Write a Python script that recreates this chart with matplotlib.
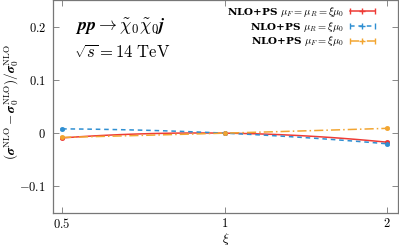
import numpy as np
import matplotlib
matplotlib.use("Agg")
import matplotlib.pyplot as plt
from matplotlib.lines import Line2D
from matplotlib.legend_handler import HandlerLine2D, HandlerTuple

xi = [0.5, 1.0, 2.0]
red_vals = [-0.009, 0.0, -0.017]
blue_vals = [0.008, 0.0, -0.020]
orange_vals = [-0.008, 0.0, 0.009]
err = [0.002, 0.001, 0.002]
labels = [r'NLO+PS $\mu_F=\mu_R=\xi\mu_0$',
          r'NLO+PS $\mu_R=\xi\mu_0$',
          r'NLO+PS $\mu_F=\xi\mu_0$']
xticks = [0.5, 1, 2]
xticklabels = [r'$0.5$', r'$1$', r'$2$']
yticks = [-0.1, 0.0, 0.1, 0.2]
yticklabels = [r'$-0.1$', r'$0$', r'$0.1$', r'$0.2$']

plt.rcParams['mathtext.fontset'] = 'cm'
plt.rcParams['font.family'] = 'DejaVu Serif'

fig = plt.figure(figsize=(3.99, 2.48), dpi=100)
ax = fig.add_axes([0.133, 0.141, 0.864, 0.859])
ax.set_xscale('log')

colors = ['#ee3b36', '#2f8fd2', '#f2a531']
styles = ['-', (0, (3, 2.5)), (0, (6, 2, 1, 2))]
series = [red_vals, blue_vals, orange_vals]

handles = []
hmap = {}
for vals, c, ls, lab in zip(series, colors, styles, labels):
    t = np.log2(xi)
    coef = np.polyfit(t, vals, 2)
    tt = np.linspace(t[0], t[-1], 100)
    ax.plot(2 ** tt, np.polyval(coef, tt), color=c, ls=ls, lw=1.1)
    ax.errorbar(xi, vals, yerr=err, fmt='o', ms=2.5, color=c, capsize=1.5, elinewidth=0.8)
    caps = Line2D([], [], color=c, ls=ls, lw=1.1, marker='|', ms=5, mew=1)
    plus = Line2D([], [], color=c, ls='none', marker='+', ms=4, mew=1)
    hmap[caps] = HandlerLine2D(numpoints=2)
    hmap[plus] = HandlerLine2D(numpoints=1)
    handles.append((caps, plus))
hmap[tuple] = HandlerTuple(ndivide=1)

leg = ax.legend(handles, labels, handler_map=hmap, loc='upper right',
                bbox_to_anchor=(0.97, 1.02), frameon=False, markerfirst=False,
                fontsize=7.5, handlelength=3.0, handletextpad=0.3, labelspacing=0.05)
for txt in leg.get_texts():
    txt.set_fontweight('bold')

ax.set_xlim(0.481, 2.095)
ax.set_ylim(-0.15, 0.25)
ax.set_xticks(xticks)
ax.set_xticklabels(xticklabels)
ax.minorticks_off()
ax.set_yticks(yticks)
ax.set_yticklabels(yticklabels)
ax.tick_params(direction='in', length=4, width=0.7, color='#888888',
               top=True, right=True, labelsize=9, pad=5)
ax.tick_params(axis='x', pad=2.5)
for s in ax.spines.values():
    s.set_color('#777777')
    s.set_linewidth(0.9)

ax.text(0.195, 0.873, r'$\boldsymbol{pp\to\tilde{\chi}_0\tilde{\chi}_0 j}$',
        transform=ax.transAxes, ha='center', va='center', fontsize=13)
ax.text(0.2, 0.75, r'$\sqrt{s}=14\ \mathrm{TeV}$',
        transform=ax.transAxes, ha='center', va='center', fontsize=12)

ax.set_xlabel(r'$\xi$', fontsize=9.5)
ax.xaxis.set_label_coords(0.5, -0.085)
ax.set_ylabel(r'$(\boldsymbol{\sigma}^{\rm NLO}-\boldsymbol{\sigma}_0^{\rm NLO})/\boldsymbol{\sigma}_0^{\rm NLO}$',
              fontsize=9.5)
ax.yaxis.set_label_coords(-0.092, 0.52)

fig.savefig('out.png', dpi=100)
